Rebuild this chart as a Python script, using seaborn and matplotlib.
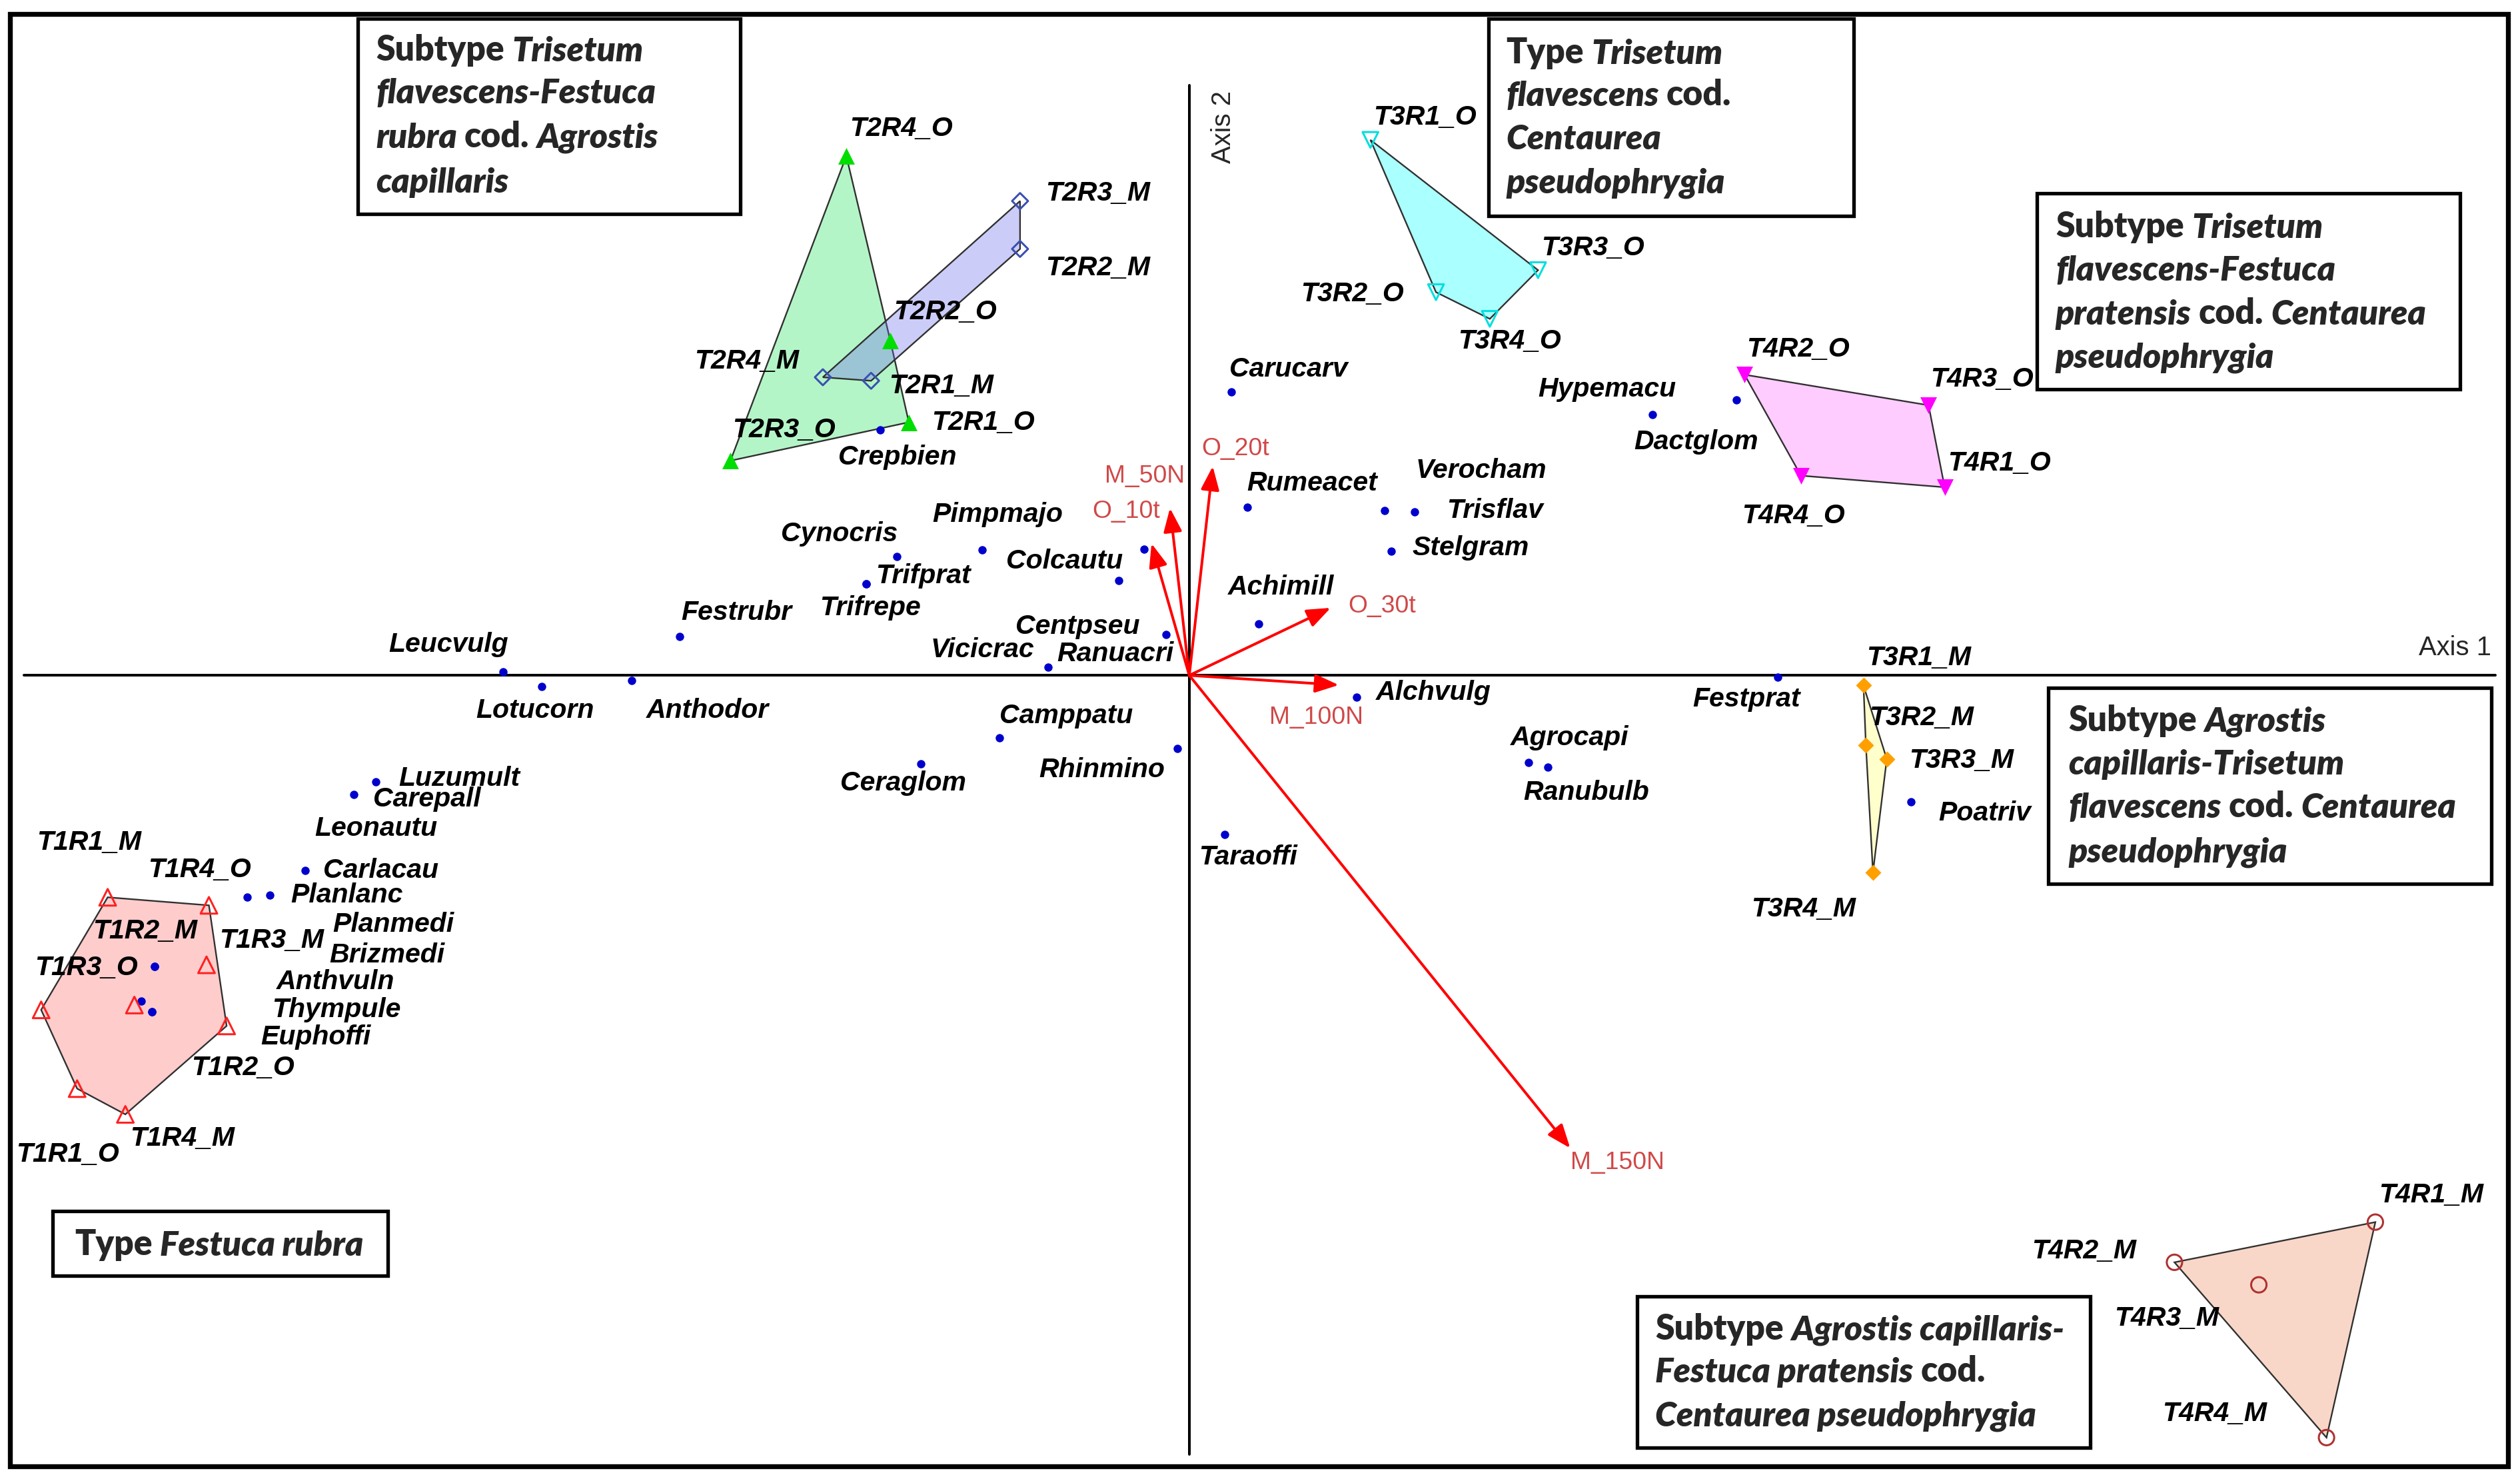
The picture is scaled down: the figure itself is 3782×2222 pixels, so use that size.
import numpy as np
import pandas as pd
import matplotlib.pyplot as plt
from matplotlib.patches import Rectangle
import seaborn as sns

sns.set_style("white")
plt.rcParams["font.family"] = ["Liberation Sans", "DejaVu Sans"]

# ---- sample (releve) scores, axis 1 / axis 2 ----
t1_names = ["T1R1_M", "T1R4_O", "T1R3_M", "T1R2_O", "T1R4_M", "T1R1_O", "T1R3_O", "T1R2_M"]
t1_x = [-6.73, -6.10, -6.115, -5.99, -6.62, -6.92, -7.144, -6.564]
t1_y = [-1.38, -1.43, -1.80, -2.18, -2.73, -2.57, -2.08, -2.05]

t2o_names = ["T2R4_O", "T2R2_O", "T2R1_O", "T2R3_O"]
t2o_x = [-2.134, -1.86, -1.745, -2.855]
t2o_y = [3.23, 2.08, 1.574, 1.335]

t2m_names = ["T2R3_M", "T2R2_M", "T2R1_M", "T2R4_M"]
t2m_x = [-1.053, -1.053, -1.98, -2.28]
t2m_y = [2.95, 2.652, 1.832, 1.854]

t3o_names = ["T3R1_O", "T3R3_O", "T3R2_O", "T3R4_O"]
t3o_x = [1.127, 2.17, 1.535, 1.87]
t3o_y = [3.33, 2.52, 2.383, 2.217]

t3m_names = ["T3R1_M", "T3R2_M", "T3R3_M", "T3R4_M"]
t3m_x = [4.195, 4.21, 4.34, 4.254]
t3m_y = [-0.063, -0.435, -0.52, -1.224]

t4o_names = ["T4R2_O", "T4R3_O", "T4R1_O", "T4R4_O"]
t4o_x = [3.455, 4.60, 4.70, 3.806]
t4o_y = [1.87, 1.68, 1.17, 1.242]

t4m_names = ["T4R1_M", "T4R2_M", "T4R3_M", "T4R4_M"]
t4m_x = [7.38, 6.13, 6.655, 7.076]
t4m_y = [-3.40, -3.65, -3.79, -4.74]

# ---- species scores ----
sp_names = ["Carucarv", "Rumeacet", "Verocham", "Trisflav", "Stelgram", "Achimill",
            "Hypemacu", "Dactglom", "Pimpmajo", "Cynocris", "Trifprat", "Trifrepe",
            "Colcautu", "Centpseu", "Ranuacri", "Vicicrac", "Festrubr", "Leucvulg",
            "Lotucorn", "Anthodor", "Camppatu", "Rhinmino", "Ceraglom", "Taraoffi",
            "Alchvulg", "Agrocapi", "Ranubulb", "Festprat", "Poatriv", "Crepbien",
            "Luzumult", "Carepall", "Leonautu", "Carlacau", "Planlanc", "Planmedi",
            "Brizmedi", "Anthvuln", "Thympule", "Euphoffi"]
sp_x = [0.26, 0.36, 1.217, 1.40, 1.256, 0.43,
        2.88, 3.405, -1.29, -1.82, -2.01, -2.01,
        -0.44, -0.28, -0.145, -0.88, -3.17, -4.27,
        -4.03, -3.47, -1.18, -0.075, -1.67, 0.22,
        1.04, 2.11, 2.23, 3.66, 4.49, -1.923,
        -5.06, -5.20, -5.86, -5.50, -5.72, -6.44,
        -6.44, -6.52, -6.456, -6.456]
sp_y = [1.762, 1.045, 1.023, 1.015, 0.772, 0.32,
        1.62, 1.713, 0.78, 0.74, 0.57, 0.57,
        0.59, 0.784, 0.254, 0.05, 0.24, 0.02,
        -0.07, -0.03, -0.39, -0.456, -0.55, -0.99,
        -0.137, -0.54, -0.57, -0.01, -0.788, 1.526,
        -0.66, -0.74, -1.38, -1.215, -1.365, -1.81,
        -1.81, -2.026, -2.09, -2.09]

# ---- environmental vectors ----
env_names = ["M_50N", "O_10t", "O_20t", "O_30t", "M_100N", "M_150N"]
env_x = [-0.12, -0.235, 0.146, 0.88, 0.93, 2.37]
env_y = [1.04, 0.82, 1.30, 0.42, -0.06, -2.94]

samples = pd.concat([
    pd.DataFrame({"name": t1_names, "x": t1_x, "y": t1_y, "group": "T1"}),
    pd.DataFrame({"name": t2o_names, "x": t2o_x, "y": t2o_y, "group": "T2_O"}),
    pd.DataFrame({"name": t2m_names, "x": t2m_x, "y": t2m_y, "group": "T2_M"}),
    pd.DataFrame({"name": t3o_names, "x": t3o_x, "y": t3o_y, "group": "T3_O"}),
    pd.DataFrame({"name": t3m_names, "x": t3m_x, "y": t3m_y, "group": "T3_M"}),
    pd.DataFrame({"name": t4o_names, "x": t4o_x, "y": t4o_y, "group": "T4_O"}),
    pd.DataFrame({"name": t4m_names, "x": t4m_x, "y": t4m_y, "group": "T4_M"}),
], ignore_index=True)
species = pd.DataFrame({"name": sp_names, "x": sp_x, "y": sp_y})

# group styles: marker, marker colour, filled?, envelope fill, marker area
styles = {
    "T1":   ("^", "#ff2020", False, "#ffcccc", 56),
    "T2_O": ("^", "#00dd00", True, "#b4f5c8", 56),
    "T2_M": ("D", "#3a50b0", False, (0.43, 0.43, 0.92, 0.35), 26),
    "T3_O": ("v", "#00dede", False, "#aaffff", 50),
    "T3_M": ("D", "#ffa000", True, "#ffffcc", 26),
    "T4_O": ("v", "#ff00ff", True, "#ffccff", 56),
    "T4_M": ("o", "#b03030", False, "#f9d7c8", 48),
}

# label offsets, in reference pixels (left edge, vertical centre) relative to the point
lab_off = {
    "T1R1_M": (-44, -34), "T1R4_O": (-38, -22), "T1R3_M": (8, -15), "T1R2_O": (-22, 26),
    "T1R4_M": (3, 15), "T1R1_O": (-38, 41), "T1R3_O": (-4, -26), "T1R2_M": (-26, -46),
    "T2R4_O": (2, -17), "T2R2_O": (2, -18), "T2R1_O": (14, 0), "T2R3_O": (1, -19),
    "T2R3_M": (16, -5), "T2R2_M": (16, 12), "T2R1_M": (11, 3), "T2R4_M": (-80, -10),
    "T3R1_O": (2, -14), "T3R3_O": (2, -14), "T3R2_O": (-84, 1), "T3R4_O": (-20, 14),
    "T4R2_O": (1, -16), "T4R3_O": (1, -16), "T4R1_O": (2, -15), "T4R4_O": (-37, 25),
    "T3R1_M": (2, -17), "T3R2_M": (2, -17), "T3R3_M": (14, 1), "T3R4_M": (-76, 23),
    "T4R1_M": (2, -17), "T4R2_M": (-89, -7), "T4R3_M": (-90, 21), "T4R4_M": (-102, -15),
    "Carucarv": (-1, -14), "Rumeacet": (0, -15), "Verocham": (19, -25), "Trisflav": (20, -1),
    "Stelgram": (13, -2), "Achimill": (-19, -23), "Hypemacu": (-71, -16), "Dactglom": (-64, 26),
    "Pimpmajo": (-31, -22), "Cynocris": (-72, -14), "Trifprat": (6, -5), "Trifrepe": (-29, 15),
    "Colcautu": (-70, -12), "Centpseu": (-80, 48), "Ranuacri": (-68, 12), "Vicicrac": (-73, -11),
    "Festrubr": (1, -15), "Leucvulg": (-71, -17), "Lotucorn": (-41, 15), "Anthodor": (9, 19),
    "Camppatu": (0, -14), "Rhinmino": (-86, 13), "Ceraglom": (-50, 12), "Taraoffi": (-16, 14),
    "Alchvulg": (12, -3), "Agrocapi": (-11, -15), "Ranubulb": (-15, 16), "Festprat": (-53, 14),
    "Poatriv": (17, 7), "Crepbien": (-26, 17), "Luzumult": (14, -2), "Carepall": (12, 3),
    "Leonautu": (42, -43), "Carlacau": (11, 0), "Planlanc": (13, 0), "Planmedi": (111, -26),
    "Brizmedi": (109, -7), "Anthvuln": (84, -12), "Thympule": (75, -1), "Euphoffi": (68, 16),
}
env_off = {"M_50N": (9, -20, "right"), "O_10t": (-37, -20, "left"), "O_20t": (-7, -11, "left"),
           "O_30t": (11, -1, "left"), "M_100N": (-43, 20, "left"), "M_150N": (0, 9, "left")}

PT = 0.7236  # points per reference pixel


def D(px, py):
    # reference pixel -> data coordinates
    return (px - 740) / 100, (420 - py) / 100


def hull(xs, ys):
    pts = sorted(set(zip(xs, ys)))
    cross = lambda o, a, b: (a[0] - o[0]) * (b[1] - o[1]) - (a[1] - o[1]) * (b[0] - o[0])
    lower, upper = [], []
    for p in pts:
        while len(lower) >= 2 and cross(lower[-2], lower[-1], p) <= 0:
            lower.pop()
        lower.append(p)
    for p in reversed(pts):
        while len(upper) >= 2 and cross(upper[-2], upper[-1], p) <= 0:
            upper.pop()
        upper.append(p)
    h = lower[:-1] + upper[:-1]
    return [p[0] for p in h], [p[1] for p in h]


fig = plt.figure(figsize=(3782 / 240, 2222 / 240), dpi=240)
ax = fig.add_axes([0, 0, 1, 1])
ax.set_xlim(-7.40, 8.28)
ax.set_ylim(-5.01, 4.20)
ax.axis("off")

# outer frame
ax.add_patch(Rectangle(D(6.4, 911.7), (1560.5 - 6.4) / 100, (911.7 - 8.7) / 100,
                       fill=False, lw=2.2, ec="black", zorder=10))

# axes
ax.plot([-7.25, 8.127], [0, 0], color="black", lw=1.2, zorder=1)
ax.plot([0, 0], [3.67, -4.846], color="black", lw=1.2, zorder=1)
ax.text(*D(1550, 403), "Axis 1", ha="right", va="center", fontsize=12, zorder=6)
ax.text(*D(761, 79), "Axis 2", ha="center", va="center", rotation=90, fontsize=12, zorder=6)

# envelopes
for g, (mk, col, filled, fill, s) in styles.items():
    sub = samples[samples.group == g]
    hx, hy = hull(sub.x, sub.y)
    ax.fill(hx, hy, facecolor=fill, edgecolor="#303030", lw=0.7, zorder=2)

# environmental arrows
for n, ex, ey in zip(env_names, env_x, env_y):
    ax.annotate("", xy=(ex, ey), xytext=(0, 0),
                arrowprops=dict(arrowstyle="-|>,head_length=0.9,head_width=0.35",
                                color="red", lw=1.2, shrinkA=0, shrinkB=0, mutation_scale=10),
                zorder=3)
    dx, dy, ha = env_off[n]
    ax.annotate(n, xy=(ex, ey), xytext=(dx * PT, -dy * PT), textcoords="offset points",
                ha=ha, va="center", fontsize=11.2, color="#d04848", zorder=6)

# species points
sns.scatterplot(data=species, x="x", y="y", color="#0000cc", s=14, linewidth=0,
                legend=False, ax=ax, zorder=4)

# sample points
for g, (mk, col, filled, fill, s) in styles.items():
    sub = samples[samples.group == g]
    sns.scatterplot(data=sub, x="x", y="y", marker=mk, s=s, color=col, linewidth=0,
                    legend=False, ax=ax, zorder=5)
    coll = ax.collections[-1]
    if not filled:
        coll.set_facecolor("none")
        coll.set_edgecolor(col)
        coll.set_linewidth(0.9)
ax.set_xlabel("")
ax.set_ylabel("")

# point labels
lab_kw = dict(fontsize=12.3, fontweight="bold", fontstyle="italic", color="black",
              ha="left", va="center", textcoords="offset points", zorder=6)
for df in (samples, species):
    for n, x, y in zip(df.name, df.x, df.y):
        dx, dy = lab_off[n]
        ax.annotate(n, xy=(x, y), xytext=(dx * PT, -dy * PT), **lab_kw)

# annotation boxes
box_font = ["Lato", "DejaVu Sans"]
box_fs = 15.5


def box(x0, y0, x1, y1, tx, lines_y, lines):
    bx, by = D(x0, y1)
    ax.add_patch(Rectangle((bx, by), (x1 - x0) / 100, (y1 - y0) / 100, facecolor="white",
                           edgecolor="black", lw=1.6, zorder=7))
    for ly, parts in zip(lines_y, lines):
        prev = None
        for txt, ital in parts:
            kw = dict(fontsize=box_fs, fontweight="heavy", family=box_font,
                      fontstyle="italic" if ital else "normal", zorder=8)
            if prev is None:
                prev = ax.text(*D(tx, ly), txt, ha="left", va="center", **kw)
            else:
                prev = ax.annotate(txt, xy=(1, 0), xycoords=prev, xytext=(box_fs * 0.22, 0),
                                   textcoords="offset points", ha="left", va="bottom", **kw)


box(222.6, 11.6, 460.6, 133.1, 233.8, [31.4, 58.0, 85.8, 113.6],
    [[("Subtype", 0), ("Trisetum", 1)], [("flavescens-Festuca", 1)],
     [("rubra", 1), ("cod.", 0), ("Agrostis", 1)], [("capillaris", 1)]])
box(926.2, 11.6, 1153.4, 134.3, 937, [32.8, 59.7, 86.6, 114.0],
    [[("Type", 0), ("Trisetum", 1)], [("flavescens", 1), ("cod.", 0)],
     [("Centaurea", 1)], [("pseudophrygia", 1)]])
box(1267.4, 120.2, 1530.7, 242.1, 1279, [141, 168.3, 195.7, 222.6],
    [[("Subtype", 0), ("Trisetum", 1)], [("flavescens-Festuca", 1)],
     [("pratensis", 1), ("cod.", 0), ("Centaurea", 1)], [("pseudophrygia", 1)]])
box(1274.5, 427.9, 1550.2, 549.7, 1287, [448.2, 475.6, 502.5, 529.9],
    [[("Subtype", 0), ("Agrostis", 1)], [("capillaris-Trisetum", 1)],
     [("flavescens", 1), ("cod.", 0), ("Centaurea", 1)], [("pseudophrygia", 1)]])
box(1018.7, 806, 1300.6, 900.1, 1029.9, [826.7, 853.6, 880.6],
    [[("Subtype", 0), ("Agrostis capillaris-", 1)], [("Festuca pratensis", 1), ("cod.", 0)],
     [("Centaurea pseudophrygia", 1)]])
box(32.8, 753.3, 241.3, 793.5, 46.4, [774],
    [[("Type", 0), ("Festuca rubra", 1)]])

fig.savefig("out.png", dpi=240)
